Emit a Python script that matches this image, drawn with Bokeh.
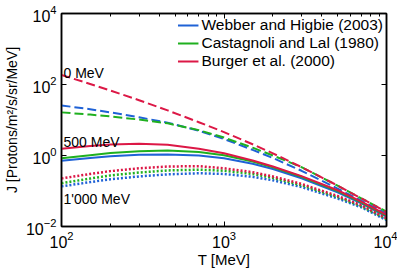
from bokeh.plotting import figure
from bokeh.models import LogAxis, FixedTicker, Label, Legend, LegendItem, CustomJSTickFormatter
from bokeh.embed import file_html
from bokeh.resources import INLINE

# Kinetic energy grid [MeV]
T = [100, 150, 200, 300, 450, 700, 1000, 1500, 2000, 3000, 5000, 7000, 10000]

# Webber and Higbie (2003)
webber_0 = [25.7, 20.1, 16.4, 11.9, 8.43, 4.99, 2.92, 1.44, 0.851, 0.371, 0.117, 0.0533, 0.0234]
webber_500 = [0.708, 0.851, 0.955, 1.05, 1.07, 1.0, 0.832, 0.589, 0.417, 0.229, 0.0912, 0.0447, 0.0191]
webber_1000 = [0.135, 0.178, 0.214, 0.257, 0.295, 0.316, 0.302, 0.251, 0.200, 0.129, 0.0617, 0.0347, 0.0151]

# Castagnoli and Lal (1980)
cast_0 = [16.4, 14.2, 12.6, 10.3, 8.07, 5.18, 3.20, 1.66, 1.0, 0.468, 0.141, 0.0621, 0.0263]
cast_500 = [0.832, 1.02, 1.17, 1.32, 1.38, 1.26, 1.02, 0.676, 0.468, 0.251, 0.100, 0.0479, 0.0204]
cast_1000 = [0.166, 0.224, 0.275, 0.331, 0.380, 0.398, 0.372, 0.302, 0.234, 0.145, 0.0676, 0.0372, 0.0162]

# Burger et al. (2000)
burger_0 = [186, 103.5, 67.6, 36.1, 18.6, 8.67, 4.56, 2.07, 1.15, 0.471, 0.142, 0.0621, 0.0254]
burger_500 = [1.55, 1.86, 2.04, 2.14, 2.0, 1.55, 1.15, 0.724, 0.490, 0.263, 0.105, 0.0501, 0.0214]
burger_1000 = [0.226, 0.302, 0.363, 0.437, 0.490, 0.501, 0.437, 0.339, 0.257, 0.158, 0.0724, 0.0398, 0.0170]

legend_names = ["Webber and Higbie (2003)", "Castagnoli and Lal (1980)", "Burger et al. (2000)"]
annot_texts = ["0 MeV", "500 MeV", "1'000 MeV"]
annot_y = [211, 2.38, 0.0598]

x_major = [100, 1000, 10000]
x_minor = [200, 300, 400, 500, 600, 700, 800, 900, 2000, 3000, 4000, 5000, 6000, 7000, 8000, 9000]
y_major = [1e-2, 1, 1e2, 1e4]

FONT = "Liberation Sans"
colors = ["#1f62d6", "#1fb01f", "#dc1846"]

p = figure(width=397, height=270, x_axis_type="log", y_axis_type="log",
           x_range=(100, 10000), y_range=(0.01, 10000),
           output_backend="svg", toolbar_location=None,
           min_border_left=58, min_border_right=11, min_border_top=13, min_border_bottom=42)
p.grid.visible = False
p.outline_line_color = "black"
p.outline_line_width = 1.5
p.background_fill_color = "white"
p.border_fill_color = "white"

def style_axis(ax, ticker, show_labels=True):
    ax.ticker = ticker
    ax.major_tick_in = 5
    ax.major_tick_out = 0
    ax.minor_tick_in = 3
    ax.minor_tick_out = 0
    ax.axis_line_color = "black"
    ax.axis_line_width = 1.5
    ax.major_tick_line_color = "black"
    ax.minor_tick_line_color = "black"
    ax.major_label_text_font = FONT
    ax.major_label_text_font_size = "16px"
    ax.major_label_text_color = "black"
    ax.axis_label_text_font = FONT
    ax.axis_label_text_font_size = "15px"
    ax.axis_label_text_font_style = "normal"
    ax.axis_label_text_color = "black"
    if not show_labels:
        ax.formatter = CustomJSTickFormatter(code="return ''")
        ax.major_label_standoff = 0

xt = FixedTicker(ticks=x_major, minor_ticks=x_minor)
yt = FixedTicker(ticks=y_major, minor_ticks=[])

style_axis(p.xaxis[0], xt)
style_axis(p.yaxis[0], yt)
p.xaxis[0].axis_label = "T [MeV]"
p.yaxis[0].axis_label = "J [Protons/m²/s/sr/MeV]"
p.yaxis[0].axis_label_text_font_size = "14px"
p.xaxis[0].major_label_standoff = 4
p.xaxis[0].axis_label_standoff = 0
p.yaxis[0].major_label_standoff = 5
p.yaxis[0].axis_label_standoff = 3

top = LogAxis()
style_axis(top, FixedTicker(ticks=x_major, minor_ticks=x_minor), show_labels=False)
p.add_layout(top, "above")
right = LogAxis()
style_axis(right, FixedTicker(ticks=y_major, minor_ticks=[]), show_labels=False)
p.add_layout(right, "right")

series = [
    (webber_0, webber_500, webber_1000),
    (cast_0, cast_500, cast_1000),
    (burger_0, burger_500, burger_1000),
]
items = []
for (s0, s500, s1000), c, name in zip(series, colors, legend_names):
    p.line(T, s0, line_color=c, line_width=2, line_dash="9 4")
    r = p.line(T, s500, line_color=c, line_width=2)
    p.line(T, s1000, line_color=c, line_width=2.5, line_dash="2 2")
    items.append(LegendItem(label=name, renderers=[r]))

legend = Legend(items=items, location="top_right")
legend.label_text_font = FONT
legend.label_text_font_size = "15.5px"
legend.label_text_color = "black"
legend.glyph_width = 21
legend.glyph_height = 18
legend.label_height = 18
legend.label_standoff = 3
legend.spacing = 0
legend.padding = 3
legend.margin = 0
legend.border_line_alpha = 0
legend.background_fill_alpha = 0
p.add_layout(legend)

for txt, yv in zip(annot_texts, annot_y):
    p.add_layout(Label(x=100, y=yv, text=txt, x_offset=2,
                       text_font=FONT, text_font_size="14px", text_color="black",
                       text_baseline="alphabetic"))

open("out.html", "w").write(file_html(p, INLINE))
